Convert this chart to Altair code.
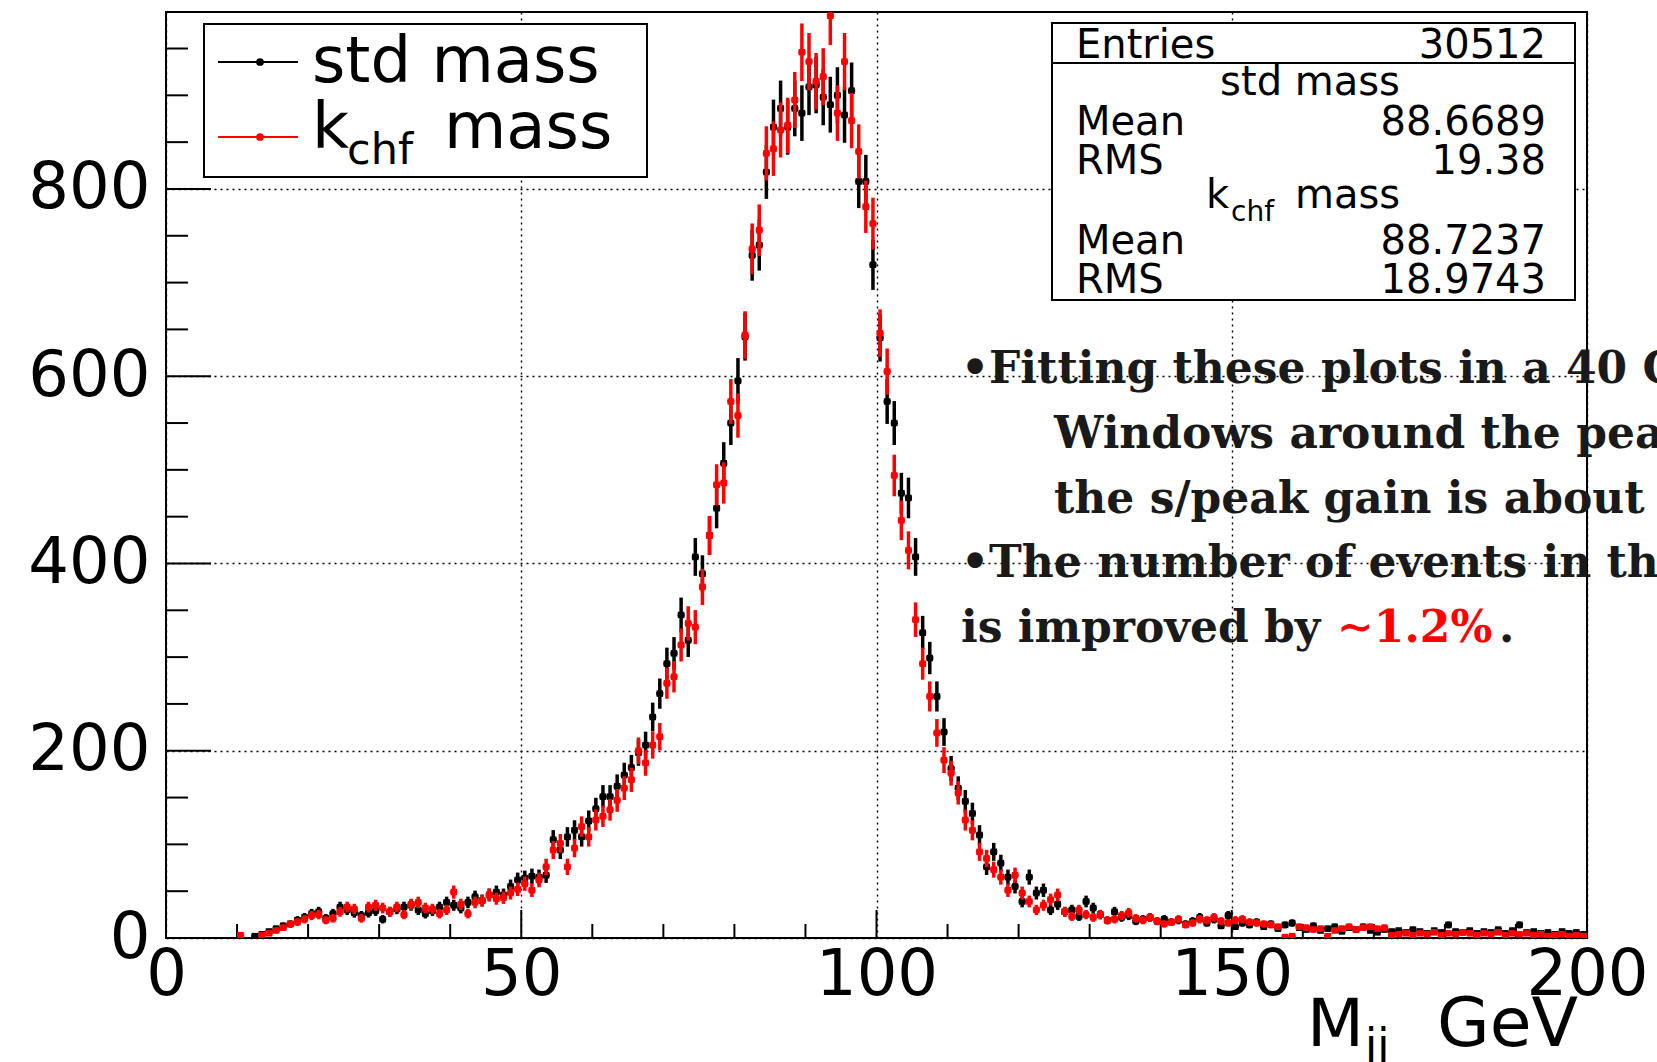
import numpy as np
import pandas as pd
import altair as alt

# ---------------- data ----------------
x_min, x_max, n_bins = 0.0, 200.0, 200

std_mass = [
    0, 0, 0, 0, 0, 0, 0, 0, 0, 0, 0, 0,
    2, 4, 7, 10, 13, 15, 19, 22, 26, 28,
    21, 26, 33, 30, 27, 24, 27, 29, 20, 28,
    31, 33, 35, 30, 26, 29, 33, 38, 35, 32,
    38, 44, 40, 46, 49, 46, 55, 62, 64, 66,
    65, 67, 105, 94, 108, 115, 108, 125, 138, 151,
    151, 162, 174, 182, 198, 206, 236, 261, 293, 304,
    345, 318, 407, 389, 430, 459, 507, 550, 595, 642,
    729, 740, 818, 866, 886, 866, 886, 881, 909, 911,
    898, 890, 900, 879, 905, 808, 808, 719, 641, 573,
    550, 475, 470, 407, 326, 299, 258, 220, 181, 160,
    146, 133, 110, 76, 92, 80, 65, 55, 39, 65,
    48, 51, 30, 36, 28, 30, 23, 39, 32, 25,
    19, 28, 22, 24, 18, 20, 22, 18, 20, 17,
    19, 15, 18, 22, 16, 20, 13, 24, 12, 16,
    14, 17, 12, 15, 10, 14, 16, 11, 9, 13,
    8, 10, 12, 7, 11, 9, 12, 8, 6, 9,
    7, 8, 6, 9, 7, 5, 8, 6, 14, 7,
    6, 8, 5, 7, 6, 9, 5, 8, 14, 6,
    7, 5, 6, 4, 7, 5, 6, 4,
]

kchf_mass = [
    0, 0, 0, 0, 0, 0, 0, 0, 0, 0,
    3, 0, 0, 3, 5, 8, 11, 15, 17, 20,
    24, 25, 19, 21, 28, 33, 31, 21, 33, 35,
    32, 28, 33, 25, 36, 38, 32, 31, 26, 30,
    49, 36, 26, 38, 40, 46, 42, 43, 48, 52,
    58, 51, 62, 76, 94, 101, 76, 96, 119, 108,
    126, 130, 137, 147, 160, 169, 200, 187, 206, 215,
    272, 279, 313, 336, 332, 375, 430, 484, 486, 573,
    558, 644, 736, 756, 838, 843, 863, 868, 895, 946,
    936, 915, 920, 985, 881, 936, 873, 840, 781, 763,
    646, 605, 494, 446, 414, 340, 293, 258, 219, 190,
    176, 155, 126, 115, 92, 85, 73, 65, 51, 67,
    48, 39, 30, 35, 41, 46, 28, 23, 30, 25,
    22, 25, 19, 20, 24, 27, 21, 19, 22, 18,
    15, 17, 20, 14, 16, 20, 19, 22, 18, 16,
    19, 20, 17, 16, 15, 14, 12, 1, 2, 12,
    11, 9, 10, 2, 8, 10, 12, 9, 11, 12,
    10, 11, 3, 4, 5, 3, 5, 4, 6, 3,
    5, 4, 6, 5, 3, 5, 4, 6, 3, 5,
    4, 5, 3, 4, 2, 3, 4, 2, 3, 2,
]

series_names = ["std mass", "kchf mass"]
x_label_values = [0, 50, 100, 150, 200]
y_label_values = [0, 200, 400, 600, 800]
x_tick_values = list(range(0, 201, 10))
y_tick_values = list(range(0, 951, 50))
y_top = 989

stats_labels = ["Entries", "Mean", "RMS", "Mean", "RMS"]
stats_values = ["30512", "88.6689", "19.38", "88.7237", "18.9743"]

note_lines = [
    "\u2022Fitting these plots in a 40 G",
    "Windows around the pea",
    "the s/peak gain is about",
    "\u2022The number of events in the",
    "is improved by ",
]
note_red = "\u223c1.2%"
note_end = "."

# ---------------- helpers ----------------
W, H = 1421, 926
width_bin = (x_max - x_min) / n_bins


def hist_frame(vals):
    v = np.asarray(vals, dtype=float)
    lo = x_min + np.arange(n_bins) * width_bin
    df = pd.DataFrame({
        "xlo": lo, "xhi": lo + width_bin, "xc": lo + width_bin / 2,
        "v": v, "elo": v - np.sqrt(v), "ehi": v + np.sqrt(v),
    })
    return df[df["v"] > 0]


xscale = alt.Scale(domain=[x_min, x_max], nice=False, zero=False)
yscale = alt.Scale(domain=[0, y_top], nice=False, zero=True)

LBL = 64
xaxis = alt.Axis(values=x_label_values, labelFont="DejaVu Sans", labelFontSize=LBL,
                 labelColor="black", ticks=False, domain=False, grid=True,
                 gridColor="black", gridDash=[2, 4], gridWidth=1.4, gridOpacity=1,
                 title=None, labelPadding=5, labelFlush=False, labelOverlap=False,
                 labelBaseline="top", format="d")
yaxis = alt.Axis(values=y_label_values, labelFont="DejaVu Sans", labelFontSize=LBL,
                 labelColor="black", ticks=False, domain=False, grid=True,
                 gridColor="black", gridDash=[2, 4], gridWidth=1.4, gridOpacity=1,
                 title=None, labelPadding=16, labelFlush=False, labelOverlap=False,
                 labelBaseline="middle", format="d")


def X(f):
    return alt.X(f, type="quantitative", scale=xscale, axis=xaxis)


def Y(f):
    return alt.Y(f, type="quantitative", scale=yscale, axis=yaxis)


layers = []

# inner ticks
yt = pd.DataFrame({"y": y_tick_values})
yt["major"] = yt["y"] % 200 == 0
xt = pd.DataFrame({"x": x_tick_values})
xt["major"] = xt["x"] % 50 == 0

layers.append(alt.Chart(yt[yt.major]).mark_rule(color="black", strokeWidth=2).encode(
    y=Y("y"), x=alt.value(0), x2=alt.value(45)))
layers.append(alt.Chart(yt[~yt.major]).mark_rule(color="black", strokeWidth=2).encode(
    y=Y("y"), x=alt.value(0), x2=alt.value(22)))
layers.append(alt.Chart(xt[xt.major]).mark_rule(color="black", strokeWidth=2).encode(
    x=X("x"), y=alt.value(H), y2=alt.value(H - 28)))
layers.append(alt.Chart(xt[~xt.major]).mark_rule(color="black", strokeWidth=2).encode(
    x=X("x"), y=alt.value(H), y2=alt.value(H - 14)))

# histograms
for vals, col in [(std_mass, "#000000"), (kchf_mass, "#ff0000")]:
    df = hist_frame(vals)
    base = alt.Chart(df)
    layers.append(base.mark_rule(color=col, strokeWidth=3.5, clip=True).encode(
        x=X("xc"), y=Y("elo"), y2="ehi"))
    layers.append(base.mark_rule(color=col, strokeWidth=3.5, clip=True).encode(
        x=X("xlo"), x2="xhi", y=Y("v")))
    layers.append(base.mark_square(color=col, size=42, opacity=1, clip=True).encode(
        x=X("xc"), y=Y("v")))

one = pd.DataFrame({"a": [0]})


def box(x1, y1, x2, y2):
    return alt.Chart(one).mark_rect(fill="white", stroke="black", strokeWidth=2).encode(
        x=alt.value(x1), x2=alt.value(x2), y=alt.value(y1), y2=alt.value(y2))


def txt(t, x, y, size, font="DejaVu Sans", color="black", align="left", weight="normal"):
    return alt.Chart(pd.DataFrame({"t": [t]})).mark_text(
        align=align, baseline="alphabetic", font=font, fontSize=size, color=color,
        fontWeight=weight).encode(text="t:N", x=alt.value(x), y=alt.value(y))


# legend box
layers.append(box(38, 12, 481, 165))
layers.append(alt.Chart(one).mark_rule(color="black", strokeWidth=2).encode(
    x=alt.value(52), x2=alt.value(132), y=alt.value(50)))
layers.append(alt.Chart(one).mark_circle(color="black", size=60, opacity=1).encode(
    x=alt.value(94), y=alt.value(50)))
layers.append(alt.Chart(one).mark_rule(color="#ff0000", strokeWidth=2).encode(
    x=alt.value(52), x2=alt.value(132), y=alt.value(125)))
layers.append(alt.Chart(one).mark_circle(color="#ff0000", size=60, opacity=1).encode(
    x=alt.value(94), y=alt.value(125)))
layers.append(txt("std mass", 146, 70, 64))
layers.append(txt("k", 146, 136, 64))
layers.append(txt("chf", 181, 152, 43))
layers.append(txt("mass", 278, 136, 64))

# stats box
layers.append(box(886, 11, 1409, 288))
layers.append(alt.Chart(one).mark_rule(color="black", strokeWidth=2).encode(
    x=alt.value(886), x2=alt.value(1409), y=alt.value(51)))
SF = 40
row_y = [46, 123, 162, 242, 281]
for lab, val, yy in zip(stats_labels, stats_values, row_y):
    layers.append(txt(lab, 910, yy, SF))
    layers.append(txt(val, 1380, yy, SF, align="right"))
layers.append(txt("std mass", 1144, 83, SF, align="center"))
layers.append(txt("k", 1040, 196, SF))
layers.append(txt("chf", 1065, 209, 28))
layers.append(txt("mass", 1129, 196, SF))

# annotation text
serif = "DejaVu Serif"
ink = "#1a1a1a"
NS = 44
note_x = [795, 888, 888, 795, 795]
note_y = [371, 436, 501, 565, 630]
for line, nx, ny in zip(note_lines, note_x, note_y):
    layers.append(txt(line, nx, ny, NS, font=serif, color=ink, weight="bold"))
layers.append(txt(note_red, 1171, 630, NS, font=serif, color="#ff0000", weight="bold"))
layers.append(txt(note_end, 1333, 630, NS, font=serif, color=ink, weight="bold"))

# axis title  M_jj GeV
layers.append(txt("M", 1141, 1034, 66))
layers.append(txt("jj", 1199, 1048, 44))
layers.append(txt("GeV", 1412, 1034, 68, align="right"))

chart = alt.layer(*layers).properties(
    width=W, height=H,
    padding={"left": 166, "top": 12, "right": 70, "bottom": 124},
    autosize=alt.AutoSizeParams(type="none"),
    background="white",
).configure_view(stroke="black", strokeWidth=2)

chart.save("out.html", embed_options={"renderer": "svg", "actions": False})
